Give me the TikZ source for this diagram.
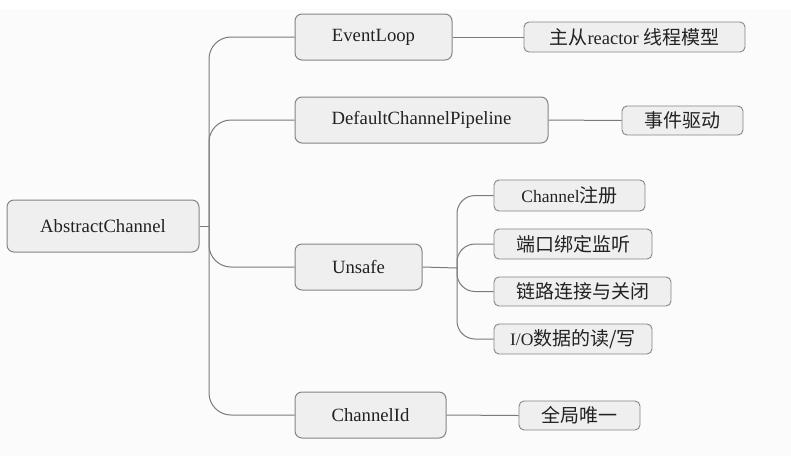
\documentclass[tikz,border=0pt]{standalone}
\usepackage{fontspec}
\setmainfont{Liberation Serif}
\newfontfamily\cjk{Noto Sans CJK SC}
\definecolor{bg}{HTML}{FBFBFB}
\definecolor{boxfill}{HTML}{EFEFEF}
\definecolor{boxline}{HTML}{858585}
\definecolor{conn}{HTML}{7A7A7A}
\definecolor{txt}{HTML}{222222}
\tikzset{
  mainbox/.style={draw=boxline, fill=boxfill, line width=1pt, rounded corners=7pt,
    inner sep=0pt, text=txt, font=\fontsize{18.7}{20}\selectfont},
  leafbox/.style={draw=boxline, fill=boxfill, line width=0.9pt, rounded corners=5pt,
    inner sep=0pt, text=txt, font=\fontsize{19}{21}\selectfont},
  link/.style={draw=conn, line width=1pt},
  branch/.style={draw=conn, line width=1pt, rounded corners=22pt},
  subbranch/.style={draw=conn, line width=1pt, rounded corners=18pt}
}
\newcommand{\lat}[1]{{\fontsize{17.5}{20}\selectfont #1}}
\begin{document}
\begin{tikzpicture}[x=1pt,y=-1pt]
\useasboundingbox (0,0) rectangle (791,456);
\fill[white] (0,0) rectangle (791,456);
\fill[bg] (0,9) rectangle (791,456);

% main nodes
\node[mainbox, minimum width=192pt, minimum height=52pt] (ac) at (103,226) {AbstractChannel};
\node[mainbox, minimum width=157pt, minimum height=46pt] (el) at (373.5,37) {EventLoop};
\node[mainbox, minimum width=253pt, minimum height=46pt] (dcp) at (421.5,120) {DefaultChannelPipeline};
\node[mainbox, minimum width=127pt, minimum height=46pt] (un) at (358.5,267) {Unsafe};
\node[mainbox, minimum width=151pt, minimum height=46pt] (ci) at (370.5,415) {ChannelId};

% leaf nodes
\node[leafbox, minimum width=221pt, minimum height=30pt] (rx) at (634.5,37) {{\cjk 主从}{\fontsize{18.5}{20}\selectfont reactor }{\cjk 线程模型}};
\node[leafbox, minimum width=121pt, minimum height=29pt] (sj) at (682.5,120.5) {\cjk 事件驱动};
\node[leafbox, minimum width=151pt, minimum height=31pt] (c1) at (569.5,195.5) {\lat{Channel}{\cjk 注册}};
\node[leafbox, minimum width=158pt, minimum height=30pt] (c2) at (573,244) {\cjk 端口绑定监听};
\node[leafbox, minimum width=177pt, minimum height=29pt] (c3) at (582.5,291.5) {\cjk 链路连接与关闭};
\node[leafbox, minimum width=158pt, minimum height=30pt] (c4) at (573,339) {\lat{I/O}{\cjk 数据的读/写}};
\node[leafbox, minimum width=121pt, minimum height=29pt] (qj) at (579.5,415.5) {\cjk 全局唯一};

% junctions
\coordinate (J) at (209,226);
\coordinate (K) at (457,268);

% connectors from root
\draw[link] (ac.east) -- (J);
\draw[branch] (J) |- (el.west);
\draw[branch] (J) |- (dcp.west);
\draw[branch] (J) |- (un.west);
\draw[branch] (J) |- (ci.west);

% unsafe branches
\draw[link] (un.east) -- (K);
\draw[subbranch] (K) |- (c1.west);
\draw[subbranch] (K) |- (c2.west);
\draw[subbranch] (K) |- (c3.west);
\draw[subbranch] (K) |- (c4.west);

% leaf links
\draw[link] (el.east) -- (rx.west);
\draw[link] (dcp.east) -- (sj.west);
\draw[link] (ci.east) -- (qj.west);
\end{tikzpicture}
\end{document}
